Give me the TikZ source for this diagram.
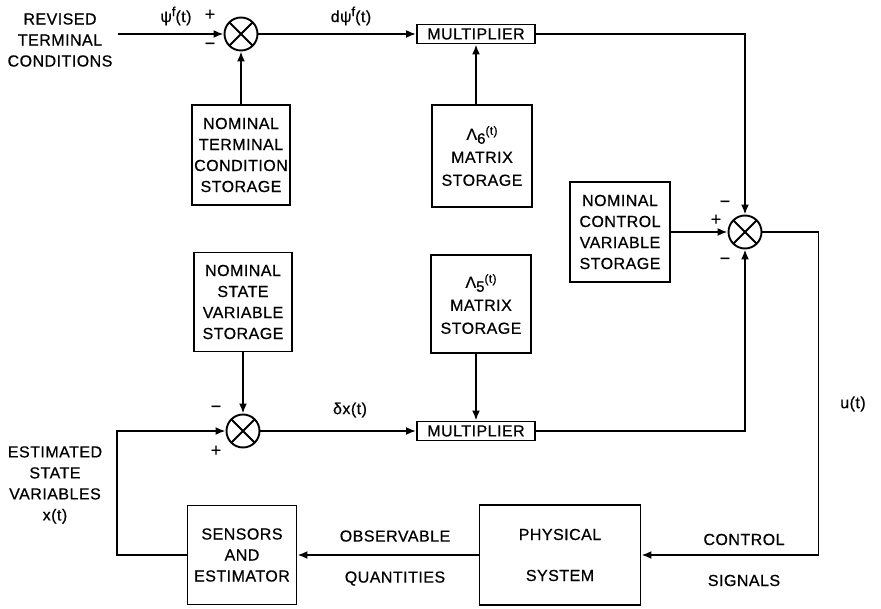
\documentclass[tikz,border=0pt]{standalone}
\usepackage{fontspec}
\setmainfont{Liberation Sans}[LetterSpace=3, FakeBold=0.6]
\usepackage{tikz}
\usetikzlibrary{arrows.meta, positioning, calc}

\newcommand{\lamsub}[1]{Λ\raisebox{-4pt}{\fontsize{15}{15}\selectfont #1}\raisebox{5pt}{\fontsize{12}{12}\selectfont (t)}}
\newcommand{\supf}{\raisebox{6pt}{\fontsize{13}{13}\selectfont f}}

\begin{document}
\begin{tikzpicture}[
  x=1pt, y=-1pt,
  line width=1.9pt,
  txt/.style={font=\fontsize{16}{21}\selectfont, align=center, inner sep=0pt},
  blk/.style={draw, txt, minimum width=98pt, minimum height=100pt},
  mult/.style={draw, txt, minimum width=118pt, minimum height=19pt},
  sumnode/.style={draw, circle, minimum size=33pt, inner sep=0pt,
    path picture={\draw (path picture bounding box.north west) -- (path picture bounding box.south east)
      (path picture bounding box.north east) -- (path picture bounding box.south west);}},
  sgn/.style={font=\fontsize{18}{18}\selectfont, inner sep=0pt},
  arr/.style={-{Latex[length=10pt, width=8pt]}}
]
  \useasboundingbox (0,0) rectangle (881,609);

  % upper loop
  \node[txt] (rtc) at (60,40) {REVISED\\TERMINAL\\CONDITIONS};
  \coordinate (in) at (118,34);
  \node[sumnode] (s1) at (241,34) {};
  \node[blk] (ntc) at (241,155) {NOMINAL\\TERMINAL\\CONDITION\\STORAGE};
  \node[mult] (m1) at (476,34) {MULTIPLIER};
  \node[blk, minimum width=100pt, minimum height=102pt] (l6) at (482,156)
    {\lamsub{6}\\[2pt]MATRIX\\[2pt]STORAGE};

  % control summation
  \node[blk, minimum width=100pt] (ncv) at (620,232) {NOMINAL\\CONTROL\\VARIABLE\\STORAGE};
  \node[sumnode] (s2) at (745,232) {};

  % lower loop
  \node[blk, minimum height=99pt] (nsv) at (243,302) {NOMINAL\\STATE\\VARIABLE\\STORAGE};
  \node[blk, minimum width=100pt, minimum height=98pt] (l5) at (481,304)
    {\lamsub{5}\\[2pt]MATRIX\\[2pt]STORAGE};
  \node[sumnode] (s3) at (243,431) {};
  \node[mult] (m2) at (476,431) {MULTIPLIER};

  % plant and estimator
  \node[blk, minimum width=109pt, minimum height=99pt] (sen) at (242,555) {SENSORS\\AND\\ESTIMATOR};
  \node[blk, minimum width=161pt] (phy) at (560,555) {PHYSICAL\\[20pt]SYSTEM};

  \draw[arr] (in) -- (s1.west);
  \draw[arr] (ntc.north) -- (s1.south);
  \draw[arr] (s1.east) -- (m1.west);
  \draw[arr] (l6.north -| m1.south) -- (m1.south);
  \draw[arr] (m1.east) -| (s2.north);
  \draw[arr] (ncv.east) -- (s2.west);
  \draw[arr] (m2.east) -| (s2.south);
  \draw[arr] (s2.east) -- ++(56,0) |- (phy.east);
  \draw[arr] (phy.west) -- (sen.east);
  \draw[arr] (sen.west) -- ++(-70,0) |- (s3.west);
  \draw[arr] (nsv.south) -- (s3.north);
  \draw[arr] (s3.east) -- (m2.west);
  \draw[arr] (l5.south -| m2.north) -- (m2.north);

  % signal labels
  \node[txt] (psi) at (176,16) {ψ\supf(t)};
  \node[txt] (dpsi) at (351,16) {dψ\supf(t)};
  \node[txt] (dx) at (350,410) {δx(t)};
  \node[txt] (u) at (853,404) {u(t)};
  \node[txt] (cs) at (744,560) {CONTROL\\[20pt]SIGNALS};
  \node[txt] (oq) at (395,558) {OBSERVABLE\\[20pt]QUANTITIES};
  \node[txt] (esv) at (55,485) {ESTIMATED\\STATE\\VARIABLES\\x(t)};

  % signs
  \node[sgn] (p1) at (210,15) {+};
  \node[sgn] (n1) at (210,46) {−};
  \node[sgn] (n2) at (725,204) {−};
  \node[sgn] (p2) at (716,220) {+};
  \node[sgn] (n3) at (725,261) {−};
  \node[sgn] (n4) at (216,409) {−};
  \node[sgn] (p3) at (216,451) {+};
\end{tikzpicture}
\end{document}
